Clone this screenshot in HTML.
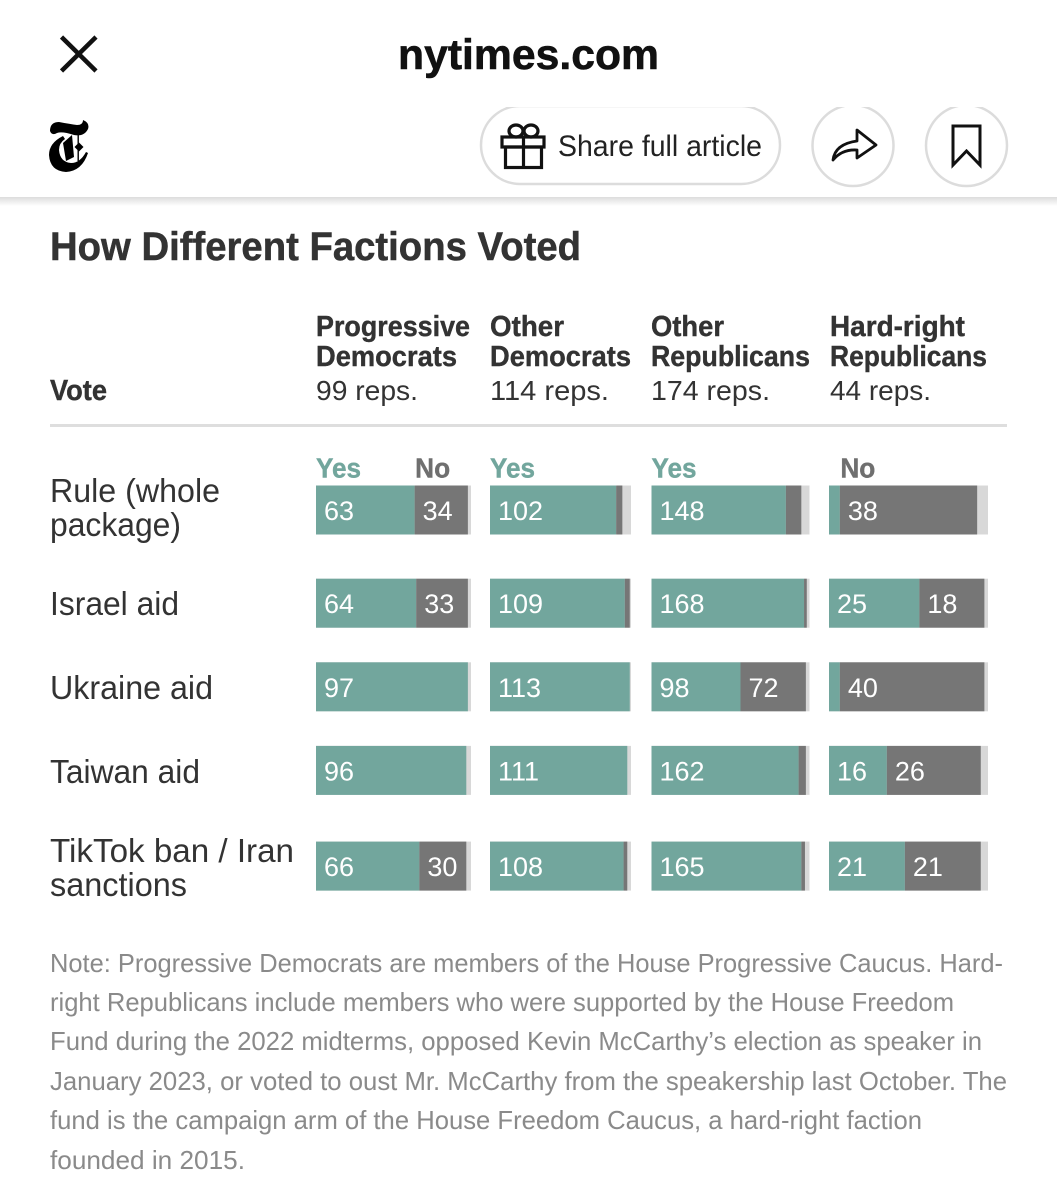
<!DOCTYPE html>
<html lang="en">
<head>
<meta charset="utf-8">
<title>How Different Factions Voted</title>
<style>
html,body{margin:0;padding:0;background:#fff;width:1057px;height:1200px;overflow:hidden}
svg{display:block}
text{font-family:"Liberation Sans",Arial,sans-serif}
.hd{font-size:29px;font-weight:700;fill:#333;stroke:#333;stroke-width:.4}
.rp{font-size:28px;fill:#333}
.lb{font-size:33px;fill:#333}
.nt{font-size:26px;fill:#8a8a8a}
</style>
</head>
<body>
<svg id="page" xmlns="http://www.w3.org/2000/svg" width="1057" height="1200" viewBox="0 0 1057 1200">
  <defs>
    <linearGradient id="hshade" x1="0" y1="0" x2="0" y2="1">
      <stop offset="0" stop-color="#dcdcdc"/><stop offset="1" stop-color="#ffffff"/>
    </linearGradient>
    <clipPath id="btnclip"><rect x="0" y="107" width="1057" height="90"/></clipPath>
  </defs>
  <rect width="1057" height="1200" fill="#fff"/>

  <g stroke="#111" stroke-width="4.5" fill="none">
    <line x1="61.5" y1="37" x2="96" y2="71"/><line x1="96" y1="37" x2="61.5" y2="71"/>
  </g>
  <text x="398" y="69" font-size="43" font-weight="700" fill="#111" stroke="#111" stroke-width=".6" textLength="261" lengthAdjust="spacingAndGlyphs">nytimes.com</text>

  <g fill="#000">
    <path d="M50 131 Q50 122 59 122 Q70 124 77 125 Q83 125 83 120 Q90 123 88 129 Q84 137 74 135 Q62 131 57 133 Q52 136 50 131 Z"/>
    <path d="M63 136 Q49 143 49 155 Q50 171 66 172 Q82 171 88 153 L86 152 Q80 163 71 163 Q60 162 59 150 Q59 143 65 139 Z"/>
    <path d="M63 143 L72 135 L74 157 L66 161 Z"/>
    <rect x="77.5" y="134" width="1.4" height="27"/>
    <path d="M79 142.5 L83.5 147 L79 151.5 L74.5 147 Z"/>
  </g>

  <g clip-path="url(#btnclip)" fill="#fff" stroke="#dcdcdc" stroke-width="2.5">
    <rect x="481" y="106" width="299" height="78" rx="39"/>
    <circle cx="853" cy="145.5" r="40.5"/>
    <circle cx="966.5" cy="145.5" r="40.5"/>
  </g>
  <g fill="none" stroke="#111" stroke-width="3.2">
    <rect x="502" y="137" width="42" height="10"/>
    <rect x="505.5" y="147" width="36" height="20.5"/>
    <line x1="523.5" y1="137" x2="523.5" y2="167"/>
    <ellipse cx="516" cy="131" rx="7" ry="6"/>
    <ellipse cx="531" cy="131" rx="7" ry="6"/>
  </g>
  <text x="558" y="156" font-size="29.5" fill="#222" textLength="204" lengthAdjust="spacingAndGlyphs">Share full article</text>
  <path d="M833 160 Q835 144 857 141 L857 130 L876 145 L857 158 L857 150 Q842 149 833 160 Z" fill="none" stroke="#111" stroke-width="2.8" stroke-linejoin="round"/>
  <path d="M953 126 H980 V165 L966.5 151 L953 165 Z" fill="none" stroke="#111" stroke-width="3"/>

  <rect x="0" y="197" width="1057" height="9" fill="url(#hshade)"/>

  <text x="50" y="260" font-size="40" font-weight="700" fill="#333" stroke="#333" stroke-width=".5" textLength="531" lengthAdjust="spacingAndGlyphs">How Different Factions Voted</text>

  <text class="hd" x="50" y="400" textLength="57" lengthAdjust="spacingAndGlyphs">Vote</text>
  <g>
    <text class="hd" x="316" y="336" textLength="154" lengthAdjust="spacingAndGlyphs">Progressive</text>
    <text class="hd" x="316" y="366" textLength="141" lengthAdjust="spacingAndGlyphs">Democrats</text>
    <text class="rp" x="316" y="400" textLength="102" lengthAdjust="spacingAndGlyphs">99 reps.</text>
  </g>
  <g>
    <text class="hd" x="490" y="336" textLength="74" lengthAdjust="spacingAndGlyphs">Other</text>
    <text class="hd" x="490" y="366" textLength="141" lengthAdjust="spacingAndGlyphs">Democrats</text>
    <text class="rp" x="490" y="400" textLength="119" lengthAdjust="spacingAndGlyphs">114 reps.</text>
  </g>
  <g>
    <text class="hd" x="651" y="336" textLength="73" lengthAdjust="spacingAndGlyphs">Other</text>
    <text class="hd" x="651" y="366" textLength="159" lengthAdjust="spacingAndGlyphs">Republicans</text>
    <text class="rp" x="651" y="400" textLength="119" lengthAdjust="spacingAndGlyphs">174 reps.</text>
  </g>
  <g>
    <text class="hd" x="830" y="336" textLength="135" lengthAdjust="spacingAndGlyphs">Hard-right</text>
    <text class="hd" x="830" y="366" textLength="157" lengthAdjust="spacingAndGlyphs">Republicans</text>
    <text class="rp" x="830" y="400" textLength="101" lengthAdjust="spacingAndGlyphs">44 reps.</text>
  </g>
  <rect x="50" y="424" width="957" height="3" fill="#dedede"/>

  <g>
    <text class="lb" x="50" y="502" textLength="170" lengthAdjust="spacingAndGlyphs">Rule (whole</text>
    <text class="lb" x="50" y="536" textLength="131" lengthAdjust="spacingAndGlyphs">package)</text>
  </g>
  <text class="lb" x="50" y="615" textLength="129" lengthAdjust="spacingAndGlyphs">Israel aid</text>
  <text class="lb" x="50" y="699" textLength="163" lengthAdjust="spacingAndGlyphs">Ukraine aid</text>
  <text class="lb" x="50" y="783" textLength="150" lengthAdjust="spacingAndGlyphs">Taiwan aid</text>
  <g>
    <text class="lb" x="50" y="862" textLength="244" lengthAdjust="spacingAndGlyphs">TikTok ban / Iran</text>
    <text class="lb" x="50" y="896" textLength="137" lengthAdjust="spacingAndGlyphs">sanctions</text>
  </g>

  <g id="bars"></g>

  <g>
    <text class="nt" x="50" y="972" textLength="953" lengthAdjust="spacingAndGlyphs">Note: Progressive Democrats are members of the House Progressive Caucus. Hard-</text>
    <text class="nt" x="50" y="1011" textLength="904" lengthAdjust="spacingAndGlyphs">right Republicans include members who were supported by the House Freedom</text>
    <text class="nt" x="50" y="1050" textLength="932" lengthAdjust="spacingAndGlyphs">Fund during the 2022 midterms, opposed Kevin McCarthy’s election as speaker in</text>
    <text class="nt" x="50" y="1090" textLength="957" lengthAdjust="spacingAndGlyphs">January 2023, or voted to oust Mr. McCarthy from the speakership last October. The</text>
    <text class="nt" x="50" y="1129" textLength="872" lengthAdjust="spacingAndGlyphs">fund is the campaign arm of the House Freedom Caucus, a hard-right faction</text>
    <text class="nt" x="50" y="1169" textLength="195" lengthAdjust="spacingAndGlyphs">founded in 2015.</text>
  </g>
</svg>
<script>
// Data: one inner array per vote, in faction order.
const factions = ["progressive-democrats", "other-democrats", "other-republicans", "hard-right-republicans"];
const factionSizes = [99, 114, 174, 44];
const votes = ["rule", "israel", "ukraine", "taiwan", "tiktok-iran"];
const voteLabelLines = [2, 1, 1, 1, 2];
const yesVotes = [
  [63, 102, 148, 3],
  [64, 109, 168, 25],
  [97, 113, 98, 3],
  [96, 111, 162, 16],
  [66, 108, 165, 21]
];
const noVotes = [
  [34, 5, 17, 38],
  [33, 4, 3, 18],
  [0, 0, 72, 40],
  [0, 0, 8, 26],
  [30, 3, 4, 21]
];

// Axis functions
const COLUMN_LAYOUT = { first: 316, step: [0, 174, 335.5, 513] };
const COLUMN_WIDTHS = { progressive: 155, otherDem: 141, otherRep: 158, hardRight: 159 };
const BAR_H = 49, MIN_LABEL_WIDTH = 40;
const widthsInOrder = Object.values(COLUMN_WIDTHS);
function colX(c) { return COLUMN_LAYOUT.first + COLUMN_LAYOUT.step[c]; }
function xScale(c, v) { return v * widthsInOrder[c] / factionSizes[c]; }
function rowY(r) {
  let y = 485.5;
  for (let i = 0; i < r; i++) {
    y += 83.6;
    if (voteLabelLines[i] > 1) y += 9.6;
    if (voteLabelLines[i + 1] > 1) y += 12.1;
  }
  return y;
}

const NS = "http://www.w3.org/2000/svg";
const bars = document.getElementById("bars");
function mk(tag, attrs, parent) {
  const el = document.createElementNS(NS, tag);
  for (const k in attrs) el.setAttribute(k, attrs[k]);
  parent.appendChild(el);
  return el;
}
function valueLabel(x, y, v, parent) {
  const t = mk("text", { x: x, y: y, "font-size": 27, fill: "#fff" }, parent);
  t.textContent = v;
  return t;
}
function headLabel(x, y, s, color, parent) {
  const t = mk("text", { x: x, y: y, "font-size": 28, "font-weight": 700, fill: color, stroke: color, "stroke-width": 0.4, textLength: s === "Yes" ? 45 : 35, lengthAdjust: "spacingAndGlyphs" }, parent);
  t.textContent = s;
  return t;
}

votes.forEach(function (vote, r) {
  factions.forEach(function (faction, c) {
    const x0 = colX(c), y = rowY(r);
    const yes = yesVotes[r][c], no = noVotes[r][c];
    const yesW = xScale(c, yes), noW = xScale(c, no);
    const g = mk("g", {}, bars);
    
    

    const rest = mk("rect", { x: x0, y: y, width: widthsInOrder[c], height: BAR_H, fill: "#d8d8d8" }, g);
    
    

    const yr = mk("rect", { x: x0, y: y, width: yesW, height: BAR_H, fill: "#72a69d" }, g);
    
    

    if (no > 0) {
      const nr = mk("rect", { x: x0 + yesW, y: y, width: noW, height: BAR_H, fill: "#767676" }, g);
      
      
    }
    if (yesW >= MIN_LABEL_WIDTH) {
      const t = valueLabel(x0 + 8, y + 34.5, yes, g);
      
      
    }
    if (noW >= MIN_LABEL_WIDTH) {
      const t = valueLabel(x0 + yesW + 8, y + 34.5, no, g);
      
      
    }
    if (r === 0) {
      if (yesW >= MIN_LABEL_WIDTH) {
        const h = headLabel(x0, y - 8, "Yes", "#72a69d", g);
        
        
      }
      if (noW >= MIN_LABEL_WIDTH) {
        const h = headLabel(x0 + yesW + 0.5, y - 8, "No", "#6f6f6f", g);
        
        
      }
    }
  });
});
</script>
</body>
</html>
